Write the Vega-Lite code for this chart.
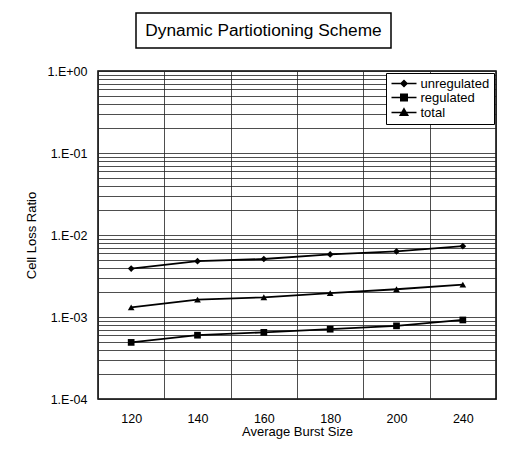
{
  "$schema": "https://vega.github.io/schema/vega-lite/v6.json",
  "background": "white",
  "padding": {"left": 24, "top": 12, "right": 0, "bottom": 0},
  "autosize": {"type": "pad"},
  "spacing": 15,
  "resolve": {"legend": {"color": "independent"}, "scale": {"color": "independent", "shape": "independent"}},
  "vconcat": [
    {
      "spacing": 0,
      "hconcat": [
        {
          "width": 36.5,
          "height": 35,
          "view": {"stroke": null},
          "data": {"values": [{}]},
          "mark": {"type": "text", "text": ""}
        },
        {
          "width": 255,
          "height": 35,
          "view": {"stroke": "black", "strokeWidth": 1.5, "fill": "white"},
          "data": {"values": [{}]},
          "mark": {
            "type": "text",
            "text": "Dynamic Partiotioning Scheme",
            "fontSize": 17.3,
            "color": "black",
            "align": "center",
            "baseline": "middle"
          }
        }
      ]
    },
    {
      "width": 398,
      "height": 328,
      "view": {"stroke": "black", "strokeWidth": 1.5, "fill": "white"},
      "data": {
        "values": [
          {"burst": 120, "series": "unregulated", "ratio": 0.0039},
          {"burst": 140, "series": "unregulated", "ratio": 0.0048},
          {"burst": 160, "series": "unregulated", "ratio": 0.0051},
          {"burst": 180, "series": "unregulated", "ratio": 0.0058},
          {"burst": 200, "series": "unregulated", "ratio": 0.0063},
          {"burst": 240, "series": "unregulated", "ratio": 0.0073},
          {"burst": 120, "series": "regulated", "ratio": 0.00049},
          {"burst": 140, "series": "regulated", "ratio": 0.0006},
          {"burst": 160, "series": "regulated", "ratio": 0.00065},
          {"burst": 180, "series": "regulated", "ratio": 0.00071},
          {"burst": 200, "series": "regulated", "ratio": 0.00078},
          {"burst": 240, "series": "regulated", "ratio": 0.00092},
          {"burst": 120, "series": "total", "ratio": 0.00131},
          {"burst": 140, "series": "total", "ratio": 0.00163},
          {"burst": 160, "series": "total", "ratio": 0.00174},
          {"burst": 180, "series": "total", "ratio": 0.00196},
          {"burst": 200, "series": "total", "ratio": 0.00218},
          {"burst": 240, "series": "total", "ratio": 0.00248}
        ]
      },
      "encoding": {
        "x": {
          "field": "burst",
          "type": "ordinal",
          "bandPosition": 0.5,
          "scale": {"type": "band", "paddingInner": 0, "paddingOuter": 0},
          "axis": {
            "title": "Average Burst Size",
            "tickBand": "extent",
            "grid": true,
            "ticks": false,
            "domain": false,
            "labelAngle": 0,
            "labelPadding": 13,
            "titlePadding": 1
          }
        },
        "y": {
          "field": "ratio",
          "type": "quantitative",
          "scale": {"type": "log", "domain": [0.0001, 1], "nice": false},
          "axis": {
            "title": "Cell Loss Ratio",
            "values": [
              0.0001, 0.0002, 0.0003, 0.0004, 0.0005, 0.0006, 0.0007, 0.0008, 0.0009,
              0.001, 0.002, 0.003, 0.004, 0.005, 0.006, 0.007, 0.008, 0.009,
              0.01, 0.02, 0.03, 0.04, 0.05, 0.06, 0.07, 0.08, 0.09,
              0.1, 0.2, 0.3, 0.4, 0.5, 0.6, 0.7, 0.8, 0.9, 1
            ],
            "labelExpr": "abs(log(datum.value) / LN10 - round(log(datum.value) / LN10)) > 0.001 ? '' : (datum.value >= 1 ? '1.E+00' : '1.E-0' + round(-log(datum.value) / LN10))",
            "labelOverlap": false,
            "labelFlush": false,
            "labelBound": false,
            "grid": true,
            "ticks": false,
            "domain": false,
            "labelPadding": 11,
            "titlePadding": 9
          }
        }
      },
      "layer": [
        {
          "mark": {"type": "line", "color": "black", "strokeWidth": 1.8},
          "encoding": {"detail": {"field": "series"}}
        },
        {
          "mark": {"type": "point", "filled": true, "opacity": 1, "size": 45},
          "encoding": {
            "shape": {
              "field": "series",
              "type": "nominal",
              "scale": {
                "domain": ["total", "regulated", "unregulated"],
                "range": ["triangle-up", "square", "diamond"]
              },
              "legend": null
            },
            "color": {
              "field": "series",
              "type": "nominal",
              "scale": {
                "domain": ["unregulated", "regulated", "total"],
                "range": ["black", "black", "black"]
              },
              "legend": {
                "title": null,
                "orient": "top-right",
                "offset": 2,
                "padding": 4,
                "rowPadding": 0,
                "strokeColor": "black",
                "fillColor": "white",
                "symbolSize": 100,
                "symbolOffset": 7.5,
                "labelOffset": 10,
                "labelFontSize": 13,
                "labelColor": "black",
                "encoding": {
                  "symbols": {
                    "shape": {"value": {"expr": "datum.value === 'unregulated' ? 'M-2.5,0H2.5M-0.6,0L0,-0.6L0.6,0L0,0.6Z' : datum.value === 'regulated' ? 'M-2.5,0H2.5M-0.65,-0.65H0.65V0.65H-0.65Z' : 'M-2.5,0H2.5M0,-0.75L0.75,0.55H-0.75Z'"}},
                    "stroke": {"value": "black"},
                    "strokeWidth": {"value": 1.5},
                    "opacity": {"value": 1}
                  }
                }
              }
            }
          }
        }
      ]
    }
  ],
  "config": {
    "font": "Liberation Sans",
    "axis": {
      "labelFont": "Liberation Sans",
      "titleFont": "Liberation Sans",
      "labelFontSize": 12.5,
      "titleFontSize": 13,
      "titleFontWeight": "normal",
      "labelColor": "black",
      "titleColor": "black",
      "gridColor": "#222",
      "gridOpacity": 0.8,
      "gridWidth": 1
    },
    "legend": {"labelFont": "Liberation Sans"},
    "text": {"font": "Liberation Sans"}
  }
}
